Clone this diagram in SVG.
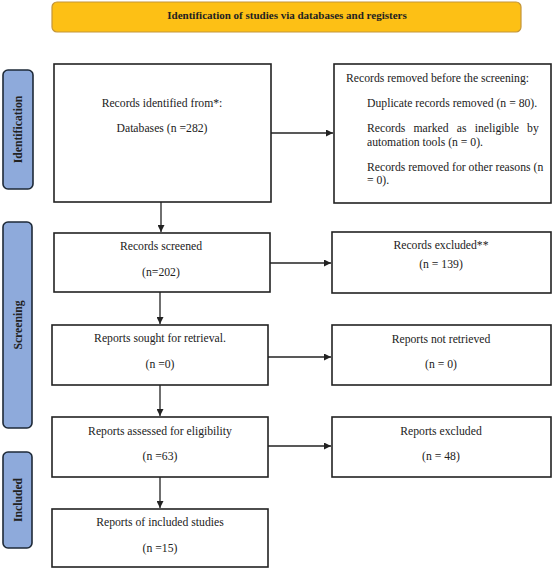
<svg xmlns="http://www.w3.org/2000/svg" width="553" height="571" viewBox="0 0 553 571">
<defs>
<style>
.box{fill:#fff;stroke:#222;stroke-width:1.6}
.tab{fill:#8eaadb;stroke:#1e2a38;stroke-width:1.6}
.hdr{fill:#fdc015;stroke:#c3953a;stroke-width:1.2}
text{font-family:"Liberation Serif","Times New Roman",serif;font-size:11.7px;fill:#222}
.c{text-anchor:middle}
.b{font-weight:bold}
.conn line{stroke:#222;stroke-width:1.3}
</style>
<marker id="ah" viewBox="0 0 10 10" refX="10" refY="5" markerWidth="7" markerHeight="7" markerUnits="userSpaceOnUse" orient="auto"><path d="M0,0 L10,5 L0,10 z" fill="#222"/></marker>
</defs>
<g id="header"><rect class="hdr" x="52" y="2" width="469" height="30" rx="5"/><text class="c b" x="287" y="19" style="font-size:11px">Identification of studies via databases and registers</text></g>
<g id="tab-identification"><rect class="tab" x="3" y="70" width="30" height="119" rx="5"/><text class="c b" transform="translate(22,129.5) rotate(-90)">Identification</text></g>
<g id="tab-screening"><rect class="tab" x="3" y="222" width="29" height="206" rx="5"/><text class="c b" transform="translate(21.5,325) rotate(-90)">Screening</text></g>
<g id="tab-included"><rect class="tab" x="3" y="452" width="29" height="96" rx="5"/><text class="c b" transform="translate(21.5,500) rotate(-90)">Included</text></g>
<g id="identified"><rect class="box" x="54" y="64" width="217" height="138"/><text class="c" x="162" y="107">Records identified from*:</text><text class="c" x="162" y="132">Databases (n =282)</text></g>
<g id="removed"><rect class="box" x="334" y="64" width="217" height="139"/>
<text x="346" y="82">Records removed before the screening:</text>
<text x="367" y="107">Duplicate records removed (n = 80).</text>
<text x="367" y="132" word-spacing="5.3">Records marked as ineligible by</text>
<text x="367" y="146">automation tools (n = 0).</text>
<text x="367" y="171">Records removed for other reasons (n</text>
<text x="367" y="184">= 0).</text></g>
<g id="screened"><rect class="box" x="54" y="233" width="216" height="59"/><text class="c" x="161" y="250">Records screened</text><text class="c" x="161" y="276">(n=202)</text></g>
<g id="excluded"><rect class="box" x="332" y="232" width="219" height="61"/><text class="c" x="441" y="249">Records excluded**</text><text class="c" x="441" y="268">(n = 139)</text></g>
<g id="sought"><rect class="box" x="52" y="325" width="216" height="60"/><text class="c" x="160" y="342">Reports sought for retrieval.</text><text class="c" x="160" y="368">(n =0)</text></g>
<g id="notretrieved"><rect class="box" x="332" y="325" width="219" height="60"/><text class="c" x="441" y="343">Reports not retrieved</text><text class="c" x="441" y="368">(n = 0)</text></g>
<g id="assessed"><rect class="box" x="52" y="417" width="216" height="60"/><text class="c" x="160" y="435">Reports assessed for eligibility</text><text class="c" x="160" y="460">(n =63)</text></g>
<g id="reportsexcluded"><rect class="box" x="332" y="417" width="219" height="60"/><text class="c" x="441" y="435">Reports excluded</text><text class="c" x="441" y="460">(n = 48)</text></g>
<g id="included"><rect class="box" x="52" y="509" width="216" height="58"/><text class="c" x="160" y="526">Reports of included studies</text><text class="c" x="160" y="552">(n =15)</text></g>
<g class="conn" id="connectors">
<line x1="161" y1="202" x2="161" y2="232" marker-end="url(#ah)"/>
<line x1="160" y1="292" x2="160" y2="324" marker-end="url(#ah)"/>
<line x1="160" y1="385" x2="160" y2="416" marker-end="url(#ah)"/>
<line x1="160" y1="477" x2="160" y2="508" marker-end="url(#ah)"/>
<line x1="271" y1="133" x2="333" y2="133" marker-end="url(#ah)"/>
<line x1="270" y1="263" x2="331" y2="263" marker-end="url(#ah)"/>
<line x1="268" y1="357" x2="331" y2="357" marker-end="url(#ah)"/>
<line x1="268" y1="446" x2="331" y2="446" marker-end="url(#ah)"/>
</g>
</svg>
